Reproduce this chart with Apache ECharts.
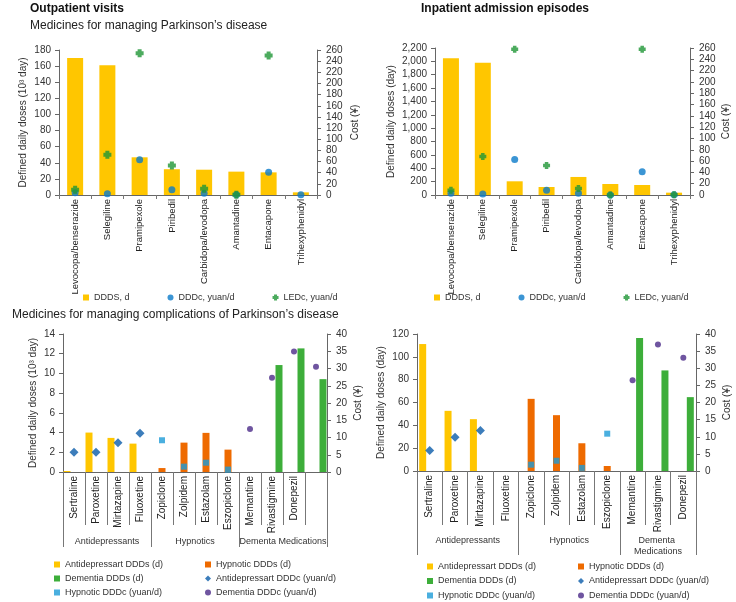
<!DOCTYPE html>
<html><head><meta charset="utf-8">
<script src="https://cdn.jsdelivr.net/npm/echarts@6/dist/echarts.min.js"></script>
<style>html,body{margin:0;padding:0;background:#fff}#c{width:736px;height:602px}</style>
</head><body><div id="c"></div>
<script>
// ---- Data ----
const catsPD = ['Levocopa/benserazide','Selegiline','Pramipexole','Piribedil','Carbidopa/levodopa','Amantadine','Entacapone','Trihexyphenidyl'];
const outDDDs = [170,161,46.8,32,31.4,29,28.1,3.3];
const outDDDc = [4.2,2.4,63,9.6,3,0.5,40.7,0.5];
const outLEDc = [9.6,72,254,52.7,11.4,0.5,250,null];
const inDDDs = [2045,1980,205,120,270,165,150,35];
const inDDDc = [3,1.8,63,8.3,3,0,41,0.5];
const inLEDc = [8.3,68,257.6,52,11.3,0,258,0.5];

const catsCompOut = ['Sertraline','Paroxetine','Mirtazapine','Fluoxetine','Zopiclone','Zolpidem','Estazolam','Eszopiclone','Memantine','Rivastigmine','Donepezil',''];
const groupsCompOut = ['Antidepressants','Hypnotics','Dementa Medications'];
const groupSizesOut = [4,4,4];
const outAntiDDDs = [0.1,4.0,3.46,2.88,null,null,null,null,null,null,null,null];
const outHypDDDs  = [null,null,null,null,0.4,2.98,3.97,2.27,null,null,null,null];
const outDemDDDs  = [null,null,null,null,null,null,null,null,null,10.85,12.54,9.42];
const outAntiDDDc = [5.7,5.7,8.5,11.2,null,null,null,null,null,null,null,null];
const outHypDDDc  = [null,null,null,null,9.2,1.55,2.7,0.7,null,null,null,null];
const outDemDDDc  = [null,null,null,null,null,null,null,null,12.5,27.3,34.9,30.5];

const catsCompIn = ['Sertraline','Paroxetine','Mirtazapine','Fluoxetine','Zopiclone','Zolpidem','Estazolam','Eszopiclone','Memantine','Rivastigmine','Donepezil'];
const groupsCompIn = ['Antidepressants','Hypnotics','Dementa Medications'];
const groupSizesIn = [4,4,3];
const inAntiDDDs = [111.2,52.7,45.4,null,null,null,null,null,null,null,null];
const inHypDDDs  = [null,null,null,null,63.2,48.9,24.3,4.4,null,null,null];
const inDemDDDs  = [null,null,null,null,null,null,null,null,116.5,88.1,64.7];
const inAntiDDDc = [6.0,9.85,11.8,null,null,null,null,null,null,null,null];
const inHypDDDc  = [null,null,null,null,1.85,3.0,0.9,10.9,null,null,null];
const inDemDDDc  = [null,null,null,null,null,null,null,null,26.5,36.9,33.1];

// ---- Styles ----
const FONT = '"Liberation Sans", Arial, sans-serif';
const C_YEL = '#FFC600', C_BLUE = '#0A7BC9', C_GRN = '#1F9636';
const C_ORG = '#EE6A00', C_DGRN = '#3DAE3A', C_DBLU = '#0B5CAA', C_LBLU = '#1D9BD7', C_PUR = '#4B2A88';
const CROSS = 'path://M2,0H6V2H8V6H6V8H2V6H0V2H2Z';
const AX = '#666';

function groupAxis(names, sizes) {
  const n = sizes.reduce((a,b)=>a+b,0);
  const data = new Array(2*n+1).fill('');
  const bounds = new Set([2*n]);
  let s = 0;
  names.forEach((nm,i)=>{ bounds.add(2*s); data[2*s+sizes[i]] = nm; s += sizes[i]; });
  return {data, bounds};
}
const gOut = groupAxis(groupsCompOut, groupSizesOut);
const gIn = groupAxis(groupsCompIn, groupSizesIn);

function yAx(grid, pos, max, interval, name, nameGap, fmt) {
  return {
    type:'value', gridIndex:grid, position:pos, min:0, max:max, interval:interval,
    name:name, nameLocation:'middle', nameRotate:90, nameGap:nameGap,
    nameTextStyle:{fontFamily:FONT, fontSize:10, color:'#333'},
    axisLine:{show:true, lineStyle:{color:AX}},
    axisTick:{show:true, length:4, lineStyle:{color:AX}},
    splitLine:{show:false},
    axisLabel:{fontFamily:FONT, fontSize:10, color:'#333', margin: pos==='left'?8:9, formatter: fmt}
  };
}
function catAx(grid, data, tickLen, fs) {
  return {
    type:'category', gridIndex:grid, data:data, position:'bottom',
    axisLine:{show:true, lineStyle:{color:AX}},
    axisTick:{show:true, length:tickLen, interval:0, lineStyle:{color:'#777'}},
    axisLabel:{interval:0, rotate:90, fontFamily:FONT, fontSize:fs, color:'#222', margin:4}
  };
}
function grpAx(grid, g, tickLen, width) {
  return {
    type:'category', gridIndex:grid, data:g.data, position:'bottom', boundaryGap:false,
    axisLine:{show:false},
    axisTick:{show:true, length:tickLen, interval:(i)=>g.bounds.has(i), lineStyle:{color:'#777'}},
    axisLabel:{interval:0, fontFamily:FONT, fontSize:9, color:'#333', margin:64,
      width:width, overflow:'break', lineHeight:11}
  };
}
const comma = v => v.toLocaleString('en-US');

const legText = {fontFamily:FONT, fontSize:9, color:'#333'};
function legend(left, top, orient, items, gap) {
  return {left:left, top:top, orient:orient, itemWidth:6, itemHeight:6, itemGap:gap, padding:0,
    textStyle:legText, selectedMode:false, data:items};
}

const option = {
  animation:false,
  textStyle:{fontFamily:FONT},
  title:[
    {text:'Outpatient visits', left:30, top:3, padding:0, textStyle:{fontFamily:FONT, fontSize:12, fontWeight:'bold', color:'#111'}},
    {text:'Medicines for managing Parkinson\u2019s disease', left:30, top:20, padding:0, textStyle:{fontFamily:FONT, fontSize:12, fontWeight:'normal', color:'#222'}},
    {text:'Inpatient admission episodes', left:421, top:3, padding:0, textStyle:{fontFamily:FONT, fontSize:12, fontWeight:'bold', color:'#111'}},
    {text:'Medicines for managing complications of Parkinson\u2019s disease', left:12, top:309, padding:0, textStyle:{fontFamily:FONT, fontSize:12, fontWeight:'normal', color:'#222'}}
  ],
  legend:[
    legend(83, 293, 'horizontal', [{name:'DDDS, d', icon:'rect'},{name:'DDDc, yuan/d', icon:'circle'},{name:'LEDc, yuan/d', icon:CROSS}], 38),
    legend(434, 293, 'horizontal', [{name:'DDDS, d', icon:'rect'},{name:'DDDc, yuan/d', icon:'circle'},{name:'LEDc, yuan/d', icon:CROSS}], 38),
    legend(54, 560, 'vertical', [{name:'Antidepressart DDDs (d)', icon:'rect'},{name:'Dementia DDDs (d)', icon:'rect'},{name:'Hypnotic DDDc (yuan/d)', icon:'rect'}], 5),
    legend(205, 560, 'vertical', [{name:'Hypnotic DDDs (d)', icon:'rect'},{name:'Antidepressart DDDc (yuan/d)', icon:'diamond'},{name:'Dementia DDDc (yuan/d)', icon:'circle'}], 5),
    legend(427, 562, 'vertical', [{name:'Antidepressart DDDs (d)', icon:'rect'},{name:'Dementia DDDs (d)', icon:'rect'},{name:'Hypnotic DDDc (yuan/d)', icon:'rect'}], 5.5),
    legend(578, 562, 'vertical', [{name:'Hypnotic DDDs (d)', icon:'rect'},{name:'Antidepressart DDDc (yuan/d)', icon:'diamond'},{name:'Dementia DDDc (yuan/d)', icon:'circle'}], 5.5)
  ],
  grid:[
    {left:59, top:50, width:258, height:145},
    {left:435, top:48, width:255, height:147},
    {left:43, top:334, width:284, height:138},
    {left:417, top:334, width:279, height:137}
  ],
  xAxis:[
    catAx(0, catsPD, 4, 9.5),
    catAx(1, catsPD, 4, 9.5),
    catAx(2, catsCompOut, 53, 10),
    grpAx(2, gOut, 75, 120),
    catAx(3, catsCompIn, 54, 10),
    grpAx(3, gIn, 84, 70)
  ],
  yAxis:[
    yAx(0,'left',180,20,'Defined daily doses (10\u00b3 day)',31),
    yAx(0,'right',260,20,'Cost (\u00a5)',33),
    yAx(1,'left',2200,200,'Defined daily doses (day)',39, comma),
    yAx(1,'right',260,20,'Cost (\u00a5)',31),
    yAx(2,'left',14,2,'Defined daily doses (10\u00b3 day)',25),
    yAx(2,'right',40,5,'Cost (\u00a5)',26),
    yAx(3,'left',120,20,'Defined daily doses (day)',31),
    yAx(3,'right',40,5,'Cost (\u00a5)',26)
  ],
  series:[
    {name:'DDDS, d', type:'bar', xAxisIndex:0, yAxisIndex:0, data:outDDDs, barWidth:16, itemStyle:{color:C_YEL}},
    {name:'DDDc, yuan/d', type:'scatter', xAxisIndex:0, yAxisIndex:1, data:outDDDc, symbol:'circle', symbolSize:7, itemStyle:{color:C_BLUE}},
    {name:'LEDc, yuan/d', type:'scatter', xAxisIndex:0, yAxisIndex:1, data:outLEDc, symbol:CROSS, symbolSize:8, itemStyle:{color:C_GRN}},

    {name:'DDDS, d', type:'bar', xAxisIndex:1, yAxisIndex:2, data:inDDDs, barWidth:16, itemStyle:{color:C_YEL}},
    {name:'DDDc, yuan/d', type:'scatter', xAxisIndex:1, yAxisIndex:3, data:inDDDc, symbol:'circle', symbolSize:7, itemStyle:{color:C_BLUE}},
    {name:'LEDc, yuan/d', type:'scatter', xAxisIndex:1, yAxisIndex:3, data:inLEDc, symbol:CROSS, symbolSize:7, itemStyle:{color:C_GRN}},

    {name:'Antidepressart DDDs (d)', type:'bar', xAxisIndex:2, yAxisIndex:4, data:outAntiDDDs, barWidth:7, barGap:'0%', itemStyle:{color:C_YEL}},
    {name:'Hypnotic DDDs (d)', type:'bar', xAxisIndex:2, yAxisIndex:4, data:outHypDDDs, barWidth:7, barGap:'0%', itemStyle:{color:C_ORG}},
    {name:'Dementia DDDs (d)', type:'bar', xAxisIndex:2, yAxisIndex:4, data:outDemDDDs, barWidth:7, barGap:'0%', itemStyle:{color:C_DGRN}},
    {name:'Antidepressart DDDc (yuan/d)', type:'scatter', xAxisIndex:2, yAxisIndex:5, data:outAntiDDDc, symbol:'diamond', symbolSize:9, itemStyle:{color:C_DBLU}},
    {name:'Hypnotic DDDc (yuan/d)', type:'scatter', xAxisIndex:2, yAxisIndex:5, data:outHypDDDc, symbol:'rect', symbolSize:6, itemStyle:{color:C_LBLU}},
    {name:'Dementia DDDc (yuan/d)', type:'scatter', xAxisIndex:2, yAxisIndex:5, data:outDemDDDc, symbol:'circle', symbolSize:6, itemStyle:{color:C_PUR}},

    {name:'Antidepressart DDDs (d)', type:'bar', xAxisIndex:4, yAxisIndex:6, data:inAntiDDDs, barWidth:7, barGap:'0%', itemStyle:{color:C_YEL}},
    {name:'Hypnotic DDDs (d)', type:'bar', xAxisIndex:4, yAxisIndex:6, data:inHypDDDs, barWidth:7, barGap:'0%', itemStyle:{color:C_ORG}},
    {name:'Dementia DDDs (d)', type:'bar', xAxisIndex:4, yAxisIndex:6, data:inDemDDDs, barWidth:7, barGap:'0%', itemStyle:{color:C_DGRN}},
    {name:'Antidepressart DDDc (yuan/d)', type:'scatter', xAxisIndex:4, yAxisIndex:7, data:inAntiDDDc, symbol:'diamond', symbolSize:9, itemStyle:{color:C_DBLU}},
    {name:'Hypnotic DDDc (yuan/d)', type:'scatter', xAxisIndex:4, yAxisIndex:7, data:inHypDDDc, symbol:'rect', symbolSize:6, itemStyle:{color:C_LBLU}},
    {name:'Dementia DDDc (yuan/d)', type:'scatter', xAxisIndex:4, yAxisIndex:7, data:inDemDDDc, symbol:'circle', symbolSize:6, itemStyle:{color:C_PUR}}
  ]
};
const chart = echarts.init(document.getElementById('c'), null, {renderer:'canvas'});
chart.setOption(option);
</script>
</body></html>
